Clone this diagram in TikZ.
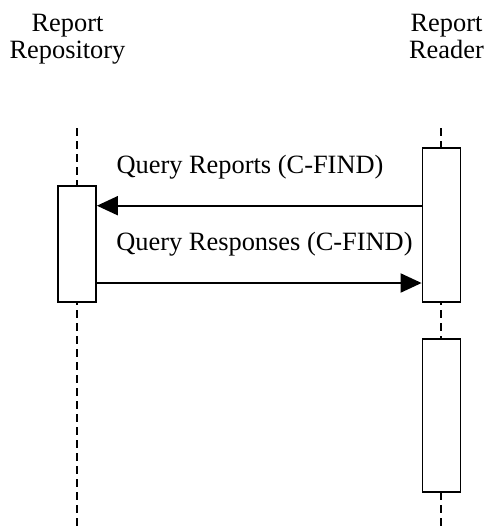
\documentclass[tikz,border=0pt]{standalone}
\usepackage{fontspec}
\setmainfont{Liberation Serif}
\usepackage{tikz}
\usetikzlibrary{arrows.meta,positioning}
\tikzstyle{actor} = [align=center, inner sep=0pt, anchor=north, font=\fontsize{13.2}{13.4}\selectfont]
\tikzstyle{lifeline} = [line width=0.8pt, dash pattern=on 4pt off 2.5pt]
\tikzstyle{activation} = [rectangle, minimum width=19pt, inner sep=0pt, draw=black, fill=white, line width=0.9pt]
\tikzstyle{msg} = [line width=1pt, -{Triangle[length=10.5pt,width=9.5pt]}]
\tikzstyle{msglabel} = [anchor=base, inner sep=0pt, font=\fontsize{13.2}{13.4}\selectfont]

\begin{document}
\begin{tikzpicture}[x=0.5pt,y=-0.5pt]
\useasboundingbox (0,0) rectangle (490,527);

% Actors
\node[actor] (repo) at (67.5,14) {Report\\Repository};
\node[actor] (reader) at (446.5,14) {Report\\Reader};

% Lifelines
\coordinate (repoTop) at (77,128);
\coordinate (repoBot) at (77,527);
\coordinate (readerTop) at (441,128);
\coordinate (readerBot) at (441,527);
\draw[lifeline] (repoTop) -- (repoBot);
\draw[lifeline] (readerTop) -- (readerBot);

% Activation boxes
\node[activation, minimum height=58pt] (repoAct) at (77,243.7) {};
\node[activation, minimum height=77pt] (readerAct) at (441.5,224.7) {};
\node[activation, minimum height=76.5pt] (readerAct2) at (441.5,415.5) {};

% Messages
\coordinate (query) at (0,205.7);
\coordinate (resp) at (0,283);
\draw[msg] (readerAct.west |- query) -- (repoAct.east |- query);
\node[msglabel] (queryLbl) at (250,173) {Query Reports (C-FIND)};
\draw[msg] (repoAct.east |- resp) -- (readerAct.west |- resp);
\node[msglabel] (respLbl) at (264.5,250) {Query Responses (C-FIND)};
\end{tikzpicture}
\end{document}
